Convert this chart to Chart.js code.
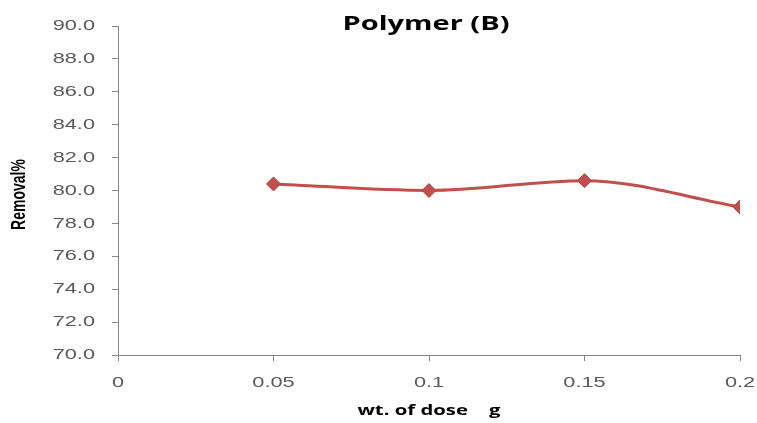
<!DOCTYPE html>
<html>
<head>
<meta charset="utf-8">
<script src="https://cdn.jsdelivr.net/npm/chart.js@4"></script>
<style>
  html, body { margin: 0; padding: 0; background: #fff; }
  #wrap { width: 757px; height: 423px; }
</style>
</head>
<body>
<div id="wrap"><canvas id="lineChart" width="757" height="423"></canvas></div>
<script>
// dose (g) vs removal %
const doses = [0.05, 0.1, 0.15, 0.2];
const removal = [80.4, 80.0, 80.6, 79.0];
const xTicks = [0, 0.05, 0.1, 0.15, 0.2];
const yTicks = [70, 72, 74, 76, 78, 80, 82, 84, 86, 88, 90];

const lineColor = '#C0504D';
const textColor = '#595959';
const axisColor = '#868686';
const stretch = 1.45; // the reference picture is stretched sideways

// write text stretched horizontally around (x, y)
function wideText(ctx, text, x, y, align, font, color) {
    ctx.save();
    ctx.translate(x, y);
    ctx.scale(stretch, 1);
    ctx.font = font;
    ctx.fillStyle = color;
    ctx.textAlign = align;
    ctx.textBaseline = 'middle';
    ctx.fillText(text, 0, 0);
    ctx.restore();
}

const textPlugin = {
    id: 'textStuff',
    afterDraw(chart) {
        const ctx = chart.ctx;
        const area = chart.chartArea;
        const xs = chart.scales.x;
        const ys = chart.scales.y;
        const tickFont = '15px "Liberation Sans", Arial, sans-serif';

        // tick labels placed through the scales
        yTicks.forEach(function (v) {
            wideText(ctx, v.toFixed(1), area.left - 23, ys.getPixelForValue(v), 'right', tickFont, textColor);
        });
        xTicks.forEach(function (v) {
            wideText(ctx, String(v), xs.getPixelForValue(v), area.bottom + 28, 'center', tickFont, textColor);
        });

        // chart title
        wideText(ctx, 'Polymer (B)', (area.left + area.right) / 2 - 3, 24, 'center',
            'bold 20px "Open Sans", sans-serif', '#000');

        // x axis title
        wideText(ctx, 'wt. of dose    g', (area.left + area.right) / 2, area.bottom + 56, 'center',
            'bold 14px "Open Sans", sans-serif', '#000');

        // y axis title, rotated
        ctx.save();
        ctx.translate(19, (area.top + area.bottom) / 2 + 4);
        ctx.scale(stretch, 1);
        ctx.rotate(-Math.PI / 2);
        ctx.font = 'bold 14px "Liberation Sans", sans-serif';
        ctx.fillStyle = '#000';
        ctx.textAlign = 'center';
        ctx.textBaseline = 'middle';
        ctx.fillText('Removal%', 0, 0);
        ctx.restore();
    }
};

const ctx = document.getElementById('lineChart').getContext('2d');
window.myLineChart = new Chart(ctx, {
    type: 'line',
    data: {
        datasets: [{
            data: doses.map((d, i) => ({ x: d, y: removal[i] })),
            borderColor: lineColor,
            backgroundColor: lineColor,
            borderWidth: 3,
            tension: 0.4,
            cubicInterpolationMode: 'monotone',
            pointStyle: 'rectRot',
            pointRadius: 7,
            pointBorderColor: '#A94440',
            pointBackgroundColor: lineColor,
            pointBorderWidth: 1
        }]
    },
    options: {
        responsive: false,
        animation: false,
        layout: { padding: { top: 26, right: 17, left: 0, bottom: 0 } },
        plugins: {
            legend: { display: false },
            tooltip: { enabled: false }
        },
        scales: {
            x: {
                type: 'linear',
                min: 0,
                max: 0.2,
                afterBuildTicks: function (axis) {
                    axis.ticks = xTicks.map(v => ({ value: v }));
                },
                afterFit: function (axis) { axis.height = 68; },
                border: { color: axisColor, width: 1 },
                grid: { drawOnChartArea: false, drawTicks: true, tickLength: 6, color: axisColor },
                ticks: { display: false }
            },
            y: {
                min: 70,
                max: 90,
                afterBuildTicks: function (axis) {
                    axis.ticks = yTicks.map(v => ({ value: v }));
                },
                afterFit: function (axis) { axis.width = 118; },
                border: { color: axisColor, width: 1 },
                grid: { drawOnChartArea: false, drawTicks: true, tickLength: 6, color: axisColor },
                ticks: { display: false }
            }
        }
    },
    plugins: [textPlugin]
});
</script>
</body>
</html>
